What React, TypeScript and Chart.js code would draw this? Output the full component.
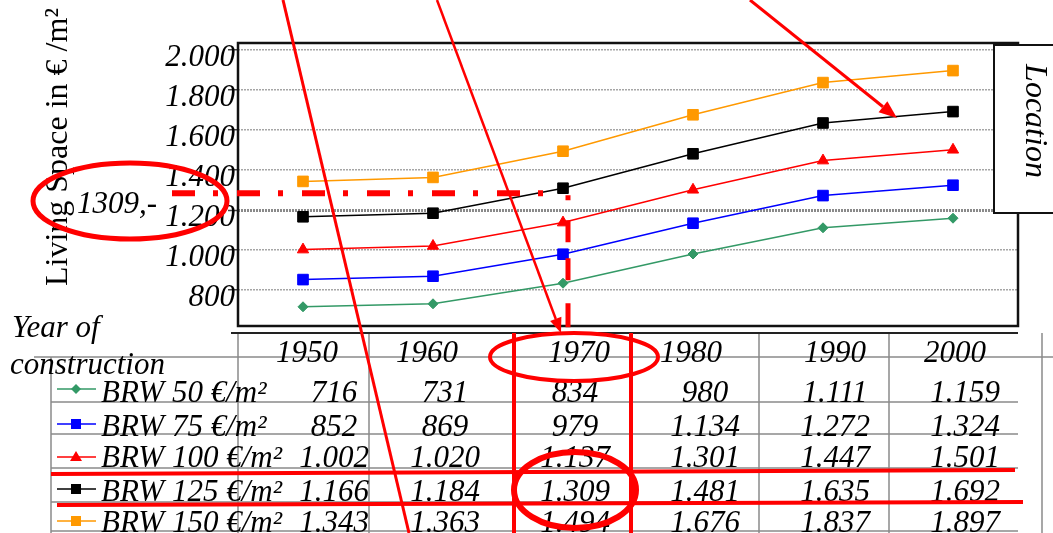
import React, { useEffect, useRef } from 'react';
import { Chart, registerables } from 'chart.js';

Chart.register(...registerables);

// ---------- data ----------
const years = ['1950', '1960', '1970', '1980', '1990', '2000'];
const seriesNames = ['BRW 50 €/m²', 'BRW 75 €/m²', 'BRW 100 €/m²', 'BRW 125 €/m²', 'BRW 150 €/m²'];
const brw50 = [716, 731, 834, 980, 1111, 1159];
const brw75 = [852, 869, 979, 1134, 1272, 1324];
const brw100 = [1002, 1020, 1137, 1301, 1447, 1501];
const brw125 = [1166, 1184, 1309, 1481, 1635, 1692];
const brw150 = [1343, 1363, 1494, 1676, 1837, 1897];
const yTicks = [800, 1000, 1200, 1400, 1600, 1800, 2000];
const yAxisTitle = 'Living Space in € /m²';
const xAxisTitle = ['Year of', 'construction'];
const sideLabel = 'Location';
const highlightLabel = '1309,-';
const highlightValue = 1309;
const highlightIndex = 2;

const seriesData = [brw50, brw75, brw100, brw125, brw150];

// ---------- styles ----------
const colors = ['#339966', '#0000ff', '#ff0000', '#000000', '#ff9900'];
const pointStyles = ['rectRot', 'rect', 'triangle', 'rect', 'rect'];
const pointRadii = [5, 7.5, 6.5, 7.5, 7.5];
const SERIF = '"Liberation Serif", "Times New Roman", serif';
const RED = '#ff0000';

const fmt = (v: number) =>
  v >= 1000 ? Math.floor(v / 1000) + '.' + String(v % 1000).padStart(3, '0') : String(v);

function line(ctx: CanvasRenderingContext2D, x1: number, y1: number, x2: number, y2: number) {
  ctx.beginPath();
  ctx.moveTo(x1, y1);
  ctx.lineTo(x2, y2);
  ctx.stroke();
}

function arrow(ctx: CanvasRenderingContext2D, x1: number, y1: number, x2: number, y2: number, w: number, headLen: number, headHalf: number) {
  const a = Math.atan2(y2 - y1, x2 - x1);
  const bx = x2 - Math.cos(a) * headLen;
  const by = y2 - Math.sin(a) * headLen;
  ctx.lineWidth = w;
  line(ctx, x1, y1, bx, by);
  ctx.beginPath();
  ctx.moveTo(x2, y2);
  ctx.lineTo(bx + Math.sin(a) * headHalf, by - Math.cos(a) * headHalf);
  ctx.lineTo(bx - Math.sin(a) * headHalf, by + Math.cos(a) * headHalf);
  ctx.closePath();
  ctx.fill();
}

function marker(ctx: CanvasRenderingContext2D, style: string, x: number, y: number, color: string) {
  ctx.fillStyle = color;
  ctx.beginPath();
  if (style === 'rectRot') {
    ctx.moveTo(x - 5, y); ctx.lineTo(x, y - 5); ctx.lineTo(x + 5, y); ctx.lineTo(x, y + 5);
  } else if (style === 'triangle') {
    ctx.moveTo(x, y - 6); ctx.lineTo(x + 6, y + 4); ctx.lineTo(x - 6, y + 4);
  } else {
    ctx.rect(x - 5, y - 5, 10, 10);
  }
  ctx.closePath();
  ctx.fill();
}

const overlayPlugin = {
  id: 'overlay',
  afterDraw(chart: any) {
    const ctx: CanvasRenderingContext2D = chart.ctx;
    const { left, right, top, bottom } = chart.chartArea;
    const xs = chart.scales.x;
    const ys = chart.scales.y;
    ctx.save();

    // plot frame
    ctx.strokeStyle = '#111';
    ctx.lineWidth = 2.5;
    ctx.strokeRect(left, top, right - left, bottom - top);

    // Location box
    ctx.fillStyle = '#fff';
    ctx.fillRect(994, 45, 80, 168);
    ctx.lineWidth = 2;
    ctx.strokeRect(994, 45, 80, 168);
    ctx.save();
    ctx.translate(1026, 121);
    ctx.rotate(Math.PI / 2);
    ctx.fillStyle = '#000';
    ctx.font = 'italic 32px ' + SERIF;
    ctx.textAlign = 'center';
    ctx.textBaseline = 'alphabetic';
    ctx.fillText(sideLabel, 0, 0);
    ctx.restore();

    // y-axis title
    ctx.save();
    ctx.translate(67, 147);
    ctx.rotate(-Math.PI / 2);
    ctx.fillStyle = '#000';
    ctx.font = '32px ' + SERIF;
    ctx.textAlign = 'center';
    ctx.textBaseline = 'alphabetic';
    ctx.fillText(yAxisTitle, 0, 0);
    ctx.restore();

    // ---------- table ----------
    ctx.strokeStyle = '#8a8a8a';
    ctx.lineWidth = 1.5;
    line(ctx, 34, 357, 1053, 357);
    [402, 434, 468, 502, 531].forEach((y) => line(ctx, 51, y, 1018, y));
    line(ctx, 51, 357, 51, 533);
    [238, 369, 514, 631, 759, 889, 1042].forEach((x) => line(ctx, x, 333, x, 533));
    ctx.strokeStyle = '#222';
    ctx.lineWidth = 2;
    line(ctx, 231, 333, 1018, 333);

    ctx.fillStyle = '#000';
    ctx.font = 'italic 31px ' + SERIF;
    ctx.textBaseline = 'alphabetic';
    ctx.textAlign = 'left';
    ctx.fillText(xAxisTitle[0], 12, 337);
    ctx.fillText(xAxisTitle[1], 10, 374);

    const headerCenters = [307, 427, 579, 691, 835, 955];
    const valueCenters = [334, 445, 575, 705, 835, 965];
    const rowBase = [402, 436, 467, 501, 532];
    const rowMid = [389, 424, 457, 489, 521];
    ctx.textAlign = 'center';
    years.forEach((y, i) => ctx.fillText(y, headerCenters[i], 362));
    seriesData.forEach((arr, r) => {
      ctx.fillStyle = '#000';
      ctx.textAlign = 'left';
      ctx.fillText(seriesNames[r], 101, rowBase[r]);
      ctx.textAlign = 'center';
      arr.forEach((v, c) => ctx.fillText(fmt(v), valueCenters[c], rowBase[r]));
      ctx.strokeStyle = colors[r];
      ctx.lineWidth = 1.5;
      line(ctx, 57, rowMid[r], 96, rowMid[r]);
      marker(ctx, pointStyles[r], 76, rowMid[r], colors[r]);
    });

    // ---------- red annotations ----------
    ctx.strokeStyle = RED;
    ctx.fillStyle = RED;
    ctx.lineCap = 'butt';

    // highlight label + ellipse
    ctx.fillStyle = '#000';
    ctx.font = 'italic 31px ' + SERIF;
    ctx.textAlign = 'left';
    ctx.fillText(highlightLabel, 77, 213);
    ctx.fillStyle = RED;
    ctx.lineWidth = 5;
    ctx.beginPath();
    ctx.ellipse(130, 201, 97, 38, 0, 0, Math.PI * 2);
    ctx.stroke();

    // dash-dot horizontal and dashed vertical at highlighted value
    const hy = ys.getPixelForValue(highlightValue) + 5;
    const hx = xs.getPixelForValue(highlightIndex) + 5;
    ctx.lineWidth = 6;
    ctx.setLineDash([23, 18, 5, 19]);
    line(ctx, 172, hy, hx - 6, hy);
    ctx.lineWidth = 5;
    ctx.setLineDash([5, 20, 22, 16, 22, 23, 24, 100]);
    line(ctx, hx, hy + 2, hx, bottom + 2);
    ctx.setLineDash([]);

    // table highlight lines
    ctx.lineWidth = 4;
    line(ctx, 514, 333, 514, 533);
    line(ctx, 631, 333, 631, 533);
    line(ctx, 51, 474, 1015, 470);
    line(ctx, 57, 505, 1023, 502);

    // ellipses in table
    ctx.lineWidth = 4;
    ctx.beginPath();
    ctx.ellipse(574, 357, 84, 24, 0, 0, Math.PI * 2);
    ctx.stroke();
    ctx.lineWidth = 6;
    ctx.beginPath();
    ctx.ellipse(575, 490, 61, 38, 0, 0, Math.PI * 2);
    ctx.stroke();

    // arrows
    ctx.lineWidth = 3;
    line(ctx, 283, 0, 409, 533);
    arrow(ctx, 437, 0, 561, 333, 2.5, 15, 6);
    arrow(ctx, 750, 0, 897, 118, 3, 18, 7);

    ctx.restore();
  },
};

export default function App() {
  const ref = useRef<HTMLCanvasElement>(null);

  useEffect(() => {
    if (!ref.current) return;
    const chart = new Chart(ref.current, {
      type: 'line',
      data: {
        labels: years,
        datasets: seriesNames.map((name, i) => ({
          label: name,
          data: seriesData[i],
          borderColor: colors[i],
          backgroundColor: colors[i],
          borderWidth: 1.5,
          pointStyle: pointStyles[i] as any,
          pointRadius: pointRadii[i],
          pointBorderWidth: 1,
          pointBackgroundColor: colors[i],
          pointBorderColor: colors[i],
          tension: 0,
        })),
      },
      options: {
        responsive: false,
        animation: false,
        layout: { padding: { top: 43, right: 35, left: 0, bottom: 0 } },
        plugins: {
          legend: { display: false },
          tooltip: { enabled: false },
          title: { display: false },
        },
        scales: {
          x: {
            type: 'category',
            offset: true,
            grid: { display: false },
            border: { display: false },
            ticks: { display: false },
            afterFit: (s: any) => {
              s.height = 207;
            },
          },
          y: {
            min: 620,
            max: 2035,
            afterBuildTicks: (s: any) => {
              s.ticks = yTicks.map((v) => ({ value: v }));
            },
            afterFit: (s: any) => {
              s.width = 238;
            },
            grid: {
              color: (c: any) => (c.tick && c.tick.value === 1200 ? '#8a8a8a' : '#a6a6a6'),
              lineWidth: (c: any) => (c.tick && c.tick.value === 1200 ? 3 : 1.5),
              drawTicks: true,
              tickLength: 10,
              tickColor: '#444',
              tickWidth: 1.5,
            },
            border: { display: false, dash: [2, 1] },
            ticks: {
              color: '#000',
              font: { family: SERIF, size: 31, style: 'italic' },
              padding: -7,
              labelOffset: 8,
              callback: (v: any) => fmt(Number(v)),
            },
          },
        },
      },
      plugins: [overlayPlugin],
    });
    return () => chart.destroy();
  }, []);

  return (
    <div style={{ position: 'absolute', left: 0, top: 0, width: 1053, height: 533, background: '#fff' }}>
      <canvas ref={ref} width={1053} height={533} style={{ display: 'block' }} />
    </div>
  );
}
